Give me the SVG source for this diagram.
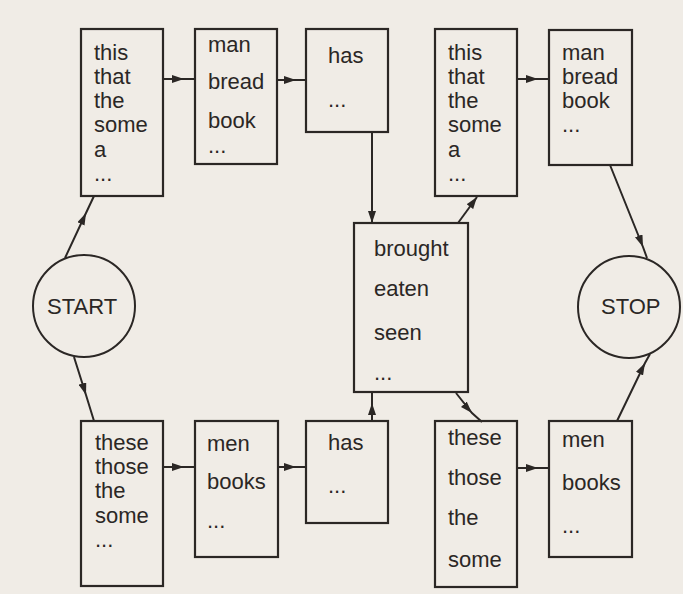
<svg xmlns="http://www.w3.org/2000/svg" width="683" height="594" viewBox="0 0 683 594">
  <style>
    .box { fill: none; stroke: #2b2725; stroke-width: 2.2; }
    .term { fill: none; stroke: #2b2725; stroke-width: 2; }
    .lbl { font-family: "Liberation Sans", Arial, sans-serif; font-size: 22px; fill: #2b2725; }
    .edge { fill: none; stroke: #2b2725; stroke-width: 2; }
    .mid { marker-mid: url(#head); }
    .end { marker-end: url(#head); }
  </style>
  <defs>
    <marker id="head" viewBox="0 0 12 8" refX="12" refY="4" markerWidth="12" markerHeight="8" markerUnits="userSpaceOnUse" orient="auto">
      <path d="M0,0 L12,4 L0,8 Z" fill="#2b2725"/>
    </marker>
  </defs>

  <rect width="683" height="594" fill="#f0ece6"/>

  <!-- connectors: arrowheads sit on the middle vertex (marker-mid) or at the end -->
  <g id="connectors">
    <path class="edge mid" d="M65,258 L86,213 L94,196"/>
    <path class="edge mid" d="M74,357 L86,395 L94,421"/>
    <path class="edge mid" d="M163,79 L184,79 L195,79"/>
    <path class="edge mid" d="M277,80 L296,80 L306,80"/>
    <path class="edge mid" d="M163,467 L184,467 L195,467"/>
    <path class="edge mid" d="M278,467 L296,467 L306,467"/>
    <path class="edge end" d="M372,132 L372,223"/>
    <path class="edge mid" d="M372,421 L372,403 L372,392"/>
    <path class="edge end" d="M458,223 L477,197"/>
    <path class="edge mid" d="M456,393 L472,413 L482,422"/>
    <path class="edge mid" d="M517,79 L538,79 L549,79"/>
    <path class="edge mid" d="M517,468 L538,468 L549,468"/>
    <path class="edge mid" d="M610,165 L643,247 L647,258"/>
    <path class="edge mid" d="M617,421 L645,363 L650,354"/>
  </g>

  <g id="start">
    <circle class="term" cx="84" cy="306" r="51"/>
    <text class="lbl" x="47" y="314">START</text>
  </g>

  <g id="stop">
    <circle class="term" cx="629" cy="307" r="51"/>
    <text class="lbl" x="601" y="314">STOP</text>
  </g>

  <g id="det-sing-1">
    <rect class="box" x="81" y="29" width="82" height="167"/>
    <text class="lbl" x="94" y="60">this</text>
    <text class="lbl" x="94" y="84">that</text>
    <text class="lbl" x="94" y="108">the</text>
    <text class="lbl" x="94" y="132">some</text>
    <text class="lbl" x="94" y="157">a</text>
    <text class="lbl" x="94" y="181">...</text>
  </g>

  <g id="noun-sing-1">
    <rect class="box" x="195" y="29" width="82" height="135"/>
    <text class="lbl" x="208" y="52">man</text>
    <text class="lbl" x="208" y="89">bread</text>
    <text class="lbl" x="208" y="128">book</text>
    <text class="lbl" x="208" y="153">...</text>
  </g>

  <g id="verb-sing">
    <rect class="box" x="306" y="29" width="82" height="103"/>
    <text class="lbl" x="328" y="63">has</text>
    <text class="lbl" x="328" y="107">...</text>
  </g>

  <g id="participle">
    <rect class="box" x="354" y="223" width="114" height="169"/>
    <text class="lbl" x="374" y="256">brought</text>
    <text class="lbl" x="374" y="296">eaten</text>
    <text class="lbl" x="374" y="340">seen</text>
    <text class="lbl" x="374" y="380">...</text>
  </g>

  <g id="det-sing-2">
    <rect class="box" x="435" y="29" width="82" height="167"/>
    <text class="lbl" x="448" y="60">this</text>
    <text class="lbl" x="448" y="84">that</text>
    <text class="lbl" x="448" y="108">the</text>
    <text class="lbl" x="448" y="132">some</text>
    <text class="lbl" x="448" y="157">a</text>
    <text class="lbl" x="448" y="181">...</text>
  </g>

  <g id="noun-sing-2">
    <rect class="box" x="549" y="30" width="83" height="135"/>
    <text class="lbl" x="562" y="60">man</text>
    <text class="lbl" x="562" y="84">bread</text>
    <text class="lbl" x="562" y="108">book</text>
    <text class="lbl" x="562" y="132">...</text>
  </g>

  <g id="det-plur-1">
    <rect class="box" x="81" y="421" width="82" height="165"/>
    <text class="lbl" x="95" y="450">these</text>
    <text class="lbl" x="95" y="474">those</text>
    <text class="lbl" x="95" y="498">the</text>
    <text class="lbl" x="95" y="523">some</text>
    <text class="lbl" x="95" y="547">...</text>
  </g>

  <g id="noun-plur-1">
    <rect class="box" x="195" y="421" width="83" height="136"/>
    <text class="lbl" x="207" y="451">men</text>
    <text class="lbl" x="207" y="489">books</text>
    <text class="lbl" x="207" y="528">...</text>
  </g>

  <g id="verb-plur">
    <rect class="box" x="306" y="421" width="82" height="102"/>
    <text class="lbl" x="328" y="450">has</text>
    <text class="lbl" x="328" y="493">...</text>
  </g>

  <g id="det-plur-2">
    <rect class="box" x="435" y="421" width="82" height="166"/>
    <text class="lbl" x="448" y="445">these</text>
    <text class="lbl" x="448" y="485">those</text>
    <text class="lbl" x="448" y="525">the</text>
    <text class="lbl" x="448" y="567">some</text>
  </g>

  <g id="noun-plur-2">
    <rect class="box" x="549" y="421" width="83" height="136"/>
    <text class="lbl" x="562" y="447">men</text>
    <text class="lbl" x="562" y="490">books</text>
    <text class="lbl" x="562" y="533">...</text>
  </g>
</svg>
